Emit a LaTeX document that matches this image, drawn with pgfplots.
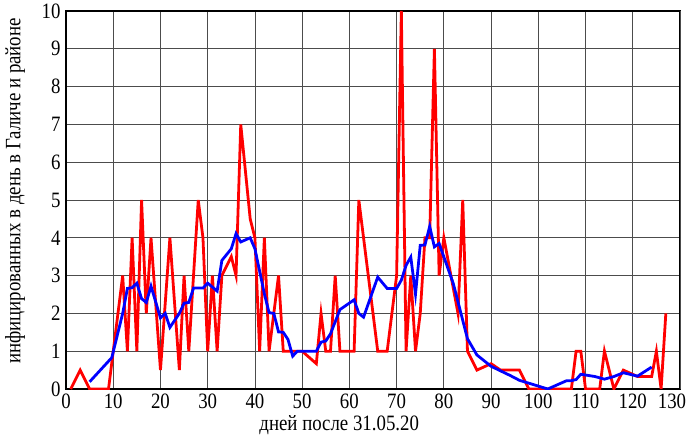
\documentclass[border=0pt]{standalone}
\usepackage{fontspec}
\setmainfont{Liberation Serif}
\newfontfamily\lab{Liberation Serif}[FakeStretch=0.86]
\usepackage{pgfplots}
\pgfplotsset{compat=1.18}
\begin{document}
\begin{tikzpicture}
\begin{axis}[
  scale only axis, width=614bp, height=378bp,
  xmin=0, xmax=130, ymin=0, ymax=10,
  xtick={0,10,...,120}, ytick={0,1,...,10},
  extra x ticks={130},
  extra x tick style={grid=major, xticklabel style={xshift=-8bp}},
  grid=major, major grid style={black!70, line width=0.8pt},
  axis line style={black, line width=1.3pt},
  major tick length=0pt,
  tick label style={font=\lab\fontsize{22}{22}\selectfont},
  /pgf/number format/assume math mode=true,
  xticklabel style={yshift=-1bp},
  yticklabel style={xshift=-2bp},
  xlabel={дней после 31.05.20},
  xlabel style={font=\lab\fontsize{22}{22}\selectfont, at={(axis description cs:0.445,-0.095)}, anchor=center},
  ylabel={инфицированных в день в Галиче и районе},
  ylabel style={font=\lab\fontsize{22}{22}\selectfont, at={(axis description cs:-0.083,0.524)}, anchor=center},
  clip=true,
]
\addplot[red, line width=2.8pt] coordinates {
(1,0)(3,0.5)(5,0)(9,0)(12,3)(13,1)(14,4)(15,1)(16,5)(17,2)(18,4)(20,0.5)(22,4)(24,0.5)(25,3)(26,1)(28,5)(29,4)(30,1)(31,3)(32,1)(33,3)(35,3.5)(36,3)(37,7)(39,4.5)(40,4)(41,1)(42,4)(43,1)(45,3)(46,1)(50,1)(53,0.67)(54,2)(55,1)(56,1)(57,3)(58,1)(61,1)(62,5)(66,1)(68,1)(70,3)(71,10)(72,1)(73,3)(74,1)(75,2)(76,4)(77,4)(78,9)(79,3)(80,4)(83,2)(84,5)(85,1)(87,0.5)(90,0.67)(92,0.5)(96,0.5)(98,0)(107,0)(108,1)(109,1)(110,0)(113,0)(114,1)(116,0)(118,0.5)(121,0.33)(124,0.33)(125,1)(126,0)(127,2)
};
\addplot[blue, line width=2.8pt] coordinates {
(5,0.19)(9.7,0.83)(12,2)(13,2.66)(14,2.68)(15,2.8)(16,2.39)(17,2.29)(18,2.72)(20,1.88)(21,2.0)(22,1.63)(24,2.0)(25,2.27)(26,2.29)(27,2.67)(29,2.67)(30,2.8)(32,2.59)(33,3.4)(35,3.71)(36,4.11)(37,3.89)(39,4.0)(40,3.71)(42,2.52)(43,2.02)(44,2.0)(45,1.51)(46,1.5)(47,1.31)(48,0.87)(49,1.0)(53,1.0)(54,1.24)(55,1.27)(56,1.46)(58,2.1)(61,2.36)(62,2.0)(63,1.9)(66,2.96)(68,2.66)(70,2.66)(71,2.88)(72,3.27)(73,3.49)(74,2.51)(75,3.8)(76,3.81)(77,4.3)(78,3.76)(79,3.85)(82,2.79)(85,1.33)(87,0.9)(90,0.6)(92,0.48)(94,0.36)(96,0.23)(102,0)(106,0.22)(107,0.22)(108,0.25)(109,0.39)(112,0.33)(114,0.26)(116,0.33)(118,0.43)(121,0.34)(124,0.58)
};
\end{axis}
\pgfresetboundingbox
\path (-66bp,-48bp) rectangle (622bp,389bp);
\end{tikzpicture}
\end{document}
